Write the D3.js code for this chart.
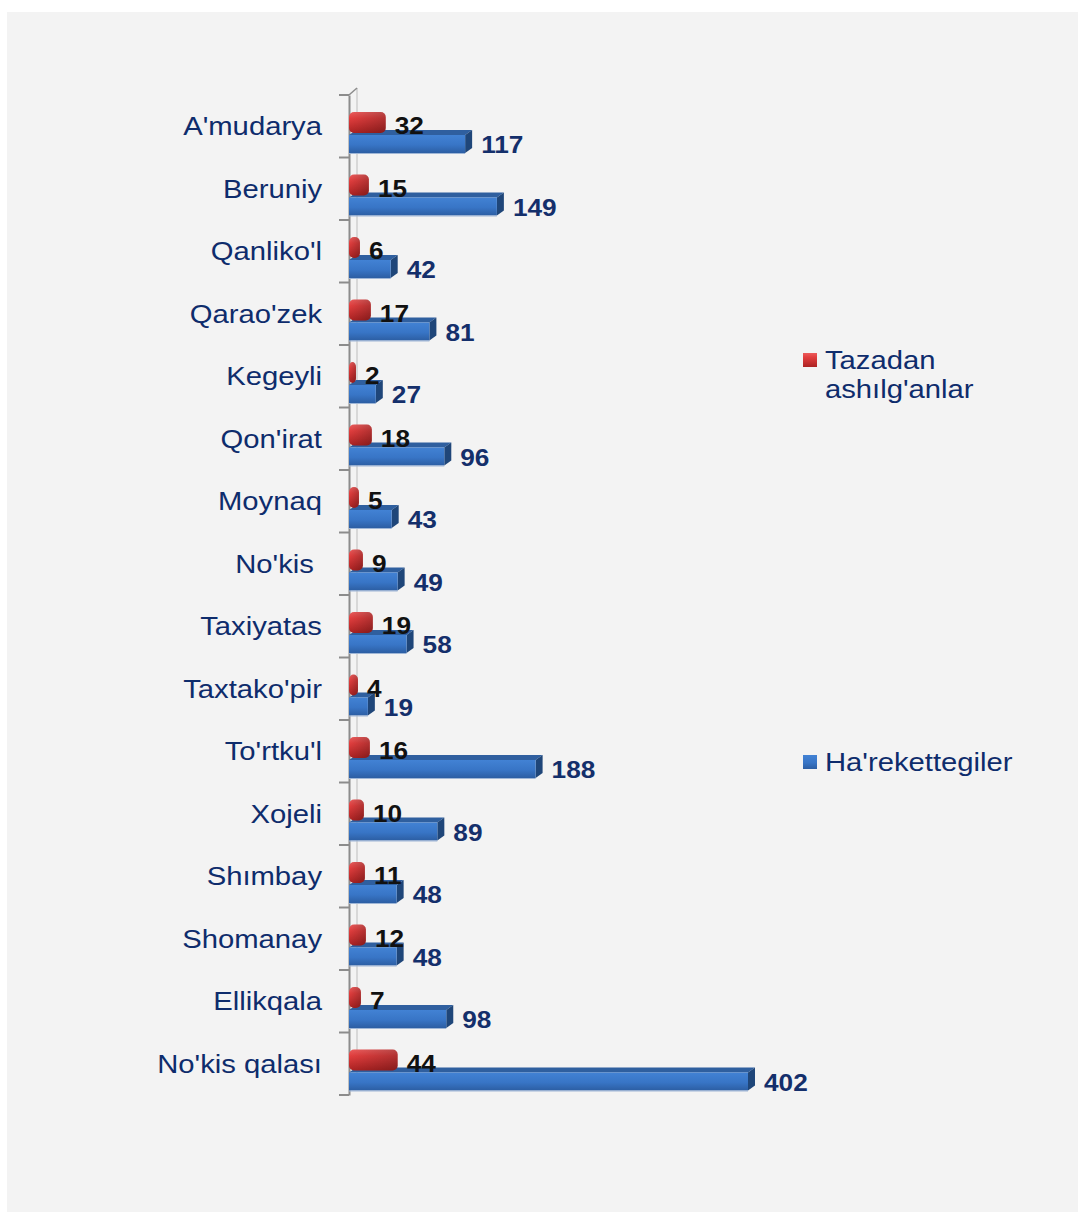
<!DOCTYPE html>
<html><head><meta charset="utf-8">
<script src="https://cdn.jsdelivr.net/npm/d3@7"></script>
<style>
html,body{margin:0;padding:0;background:#fff;}
svg{display:block;}
</style></head>
<body>
<script>
const categories = ["A'mudarya","Beruniy","Qanliko'l","Qarao'zek","Kegeyli","Qon'irat","Moynaq","No'kis ","Taxiyatas","Taxtako'pir","To'rtku'l","Xojeli","Shımbay","Shomanay","Ellikqala","No'kis qalası"];
const tazadan = [32,15,6,17,2,18,5,9,19,4,16,10,11,12,7,44];
const harekettegiler = [117,149,42,81,27,96,43,49,58,19,188,89,48,48,98,402];
const legendLabels = [["Tazadan","ashılg'anlar"],["Ha'rekettegiler"]];

const W = 1078, H = 1212;
const svg = d3.select("body").append("svg").attr("width", W).attr("height", H);

const defs = svg.append("defs");
const gB = defs.append("linearGradient").attr("id","blueFront").attr("x1",0).attr("y1",0).attr("x2",0).attr("y2",1);
gB.append("stop").attr("offset","0%").attr("stop-color","#4282d4");
gB.append("stop").attr("offset","55%").attr("stop-color","#3875c6");
gB.append("stop").attr("offset","100%").attr("stop-color","#2c5ea3");
const gR = defs.append("linearGradient").attr("id","redFront").attr("x1",0).attr("y1",0).attr("x2",0).attr("y2",1);
gR.append("stop").attr("offset","0%").attr("stop-color","#ec5c5c");
gR.append("stop").attr("offset","30%").attr("stop-color","#e23e3e");
gR.append("stop").attr("offset","100%").attr("stop-color","#ab2222");
const gRs = defs.append("linearGradient").attr("id","redSide").attr("x1",0).attr("y1",0).attr("x2",1).attr("y2",0);
gRs.append("stop").attr("offset","0%").attr("stop-color","#000").attr("stop-opacity",0);
gRs.append("stop").attr("offset","100%").attr("stop-color","#000").attr("stop-opacity",0.22);

// panel background
svg.append("rect").attr("x",7).attr("y",12).attr("width",W-7).attr("height",H-12).attr("fill","#f3f3f3");

const y = d3.scaleBand().domain(categories).range([95,1095]).padding(0);
const x = d3.scaleLinear().domain([0,402]).range([349,748]);
const dx = 7, dy = 5;

// axis: back wall line & diagonal
svg.append("line").attr("x1",357).attr("x2",357).attr("y1",88).attr("y2",1088).attr("stroke","#cfcfcf").attr("stroke-width",1.5);
svg.append("line").attr("x1",349).attr("x2",357).attr("y1",95).attr("y2",88).attr("stroke","#8c8c8c").attr("stroke-width",1.5);

const axis = d3.axisLeft(y).tickSize(0).tickFormat("");
const axG = svg.append("g").attr("transform","translate(349,0)").call(axis);
axG.select(".domain").attr("stroke","#8c8c8c").attr("stroke-width",2);
const bounds = d3.range(categories.length+1).map(i => 95 + i*y.step());
svg.selectAll("line.tk").data(bounds).join("line").attr("class","tk")
  .attr("x1",339).attr("x2",349).attr("y1",d=>d).attr("y2",d=>d)
  .attr("stroke","#8c8c8c").attr("stroke-width",2);

const rows = svg.selectAll("g.row").data(categories).join("g").attr("class","row");

rows.each(function(c,i){
  const g = d3.select(this);
  const b = y(c);
  const x0 = x(0), x1 = x(harekettegiler[i]);
  const ft = b+40, fb = b+58;
  // blue top face
  g.append("path").attr("d",`M${x0},${ft}L${x1},${ft}L${x1+dx},${ft-dy}L${x0+dx},${ft-dy}Z`).attr("fill","#2f5f9f");
  // blue side face
  g.append("path").attr("d",`M${x1},${ft}L${x1+dx},${ft-dy}L${x1+dx},${fb-dy}L${x1},${fb}Z`).attr("fill","#1f4679");
  // blue front
  g.append("rect").attr("x",x0).attr("y",ft).attr("width",x1-x0).attr("height",fb-ft).attr("fill","url(#blueFront)");
  g.append("line").attr("x1",x0).attr("x2",x1).attr("y1",fb+0.5).attr("y2",fb+0.5).attr("stroke","#9fb6d6").attr("stroke-width",1);
  // red bar (rounded cylinder-like)
  const r1 = x(tazadan[i]) + 5;
  const rt = b+17, rb = b+38;
  g.append("rect").attr("x",x0).attr("y",rt).attr("width",r1-x0).attr("height",rb-rt).attr("rx",5).attr("ry",5).attr("fill","url(#redFront)");
  g.append("rect").attr("x",x0).attr("y",rt).attr("width",r1-x0).attr("height",rb-rt).attr("rx",5).attr("ry",5).attr("fill","url(#redSide)");
  // labels
  g.append("text").attr("transform",`translate(322,${b+40}) scale(1.17,1)`)
    .attr("text-anchor","end").style("white-space","pre")
    .attr("font-family","Liberation Sans, Arial, sans-serif").attr("font-size",25)
    .attr("fill","#0e2c6c").text(c);
  g.append("text").attr("transform",`translate(${r1+9},${b+39}) scale(1.14,1)`)
    .attr("font-family","Liberation Sans, Arial, sans-serif").attr("font-size",23).attr("font-weight","bold")
    .attr("fill","#111").text(tazadan[i]);
  g.append("text").attr("transform",`translate(${x1+dx+9},${b+58}) scale(1.14,1)`)
    .attr("font-family","Liberation Sans, Arial, sans-serif").attr("font-size",23).attr("font-weight","bold")
    .attr("fill","#142f6b").text(harekettegiler[i]);
});

// legend
const leg = [
  {y:353, fill:"url(#redFront)", lines:legendLabels[0]},
  {y:755, fill:"url(#blueFront)", lines:legendLabels[1]}
];
leg.forEach(l=>{
  svg.append("rect").attr("x",803).attr("y",l.y).attr("width",14).attr("height",14).attr("fill",l.fill);
  l.lines.forEach((t,j)=>{
    svg.append("text").attr("transform",`translate(825,${l.y+16+j*29}) scale(1.17,1)`)
      .attr("font-family","Liberation Sans, Arial, sans-serif").attr("font-size",25)
      .attr("fill","#0e2c6c").text(t);
  });
});
</script>
</body></html>
